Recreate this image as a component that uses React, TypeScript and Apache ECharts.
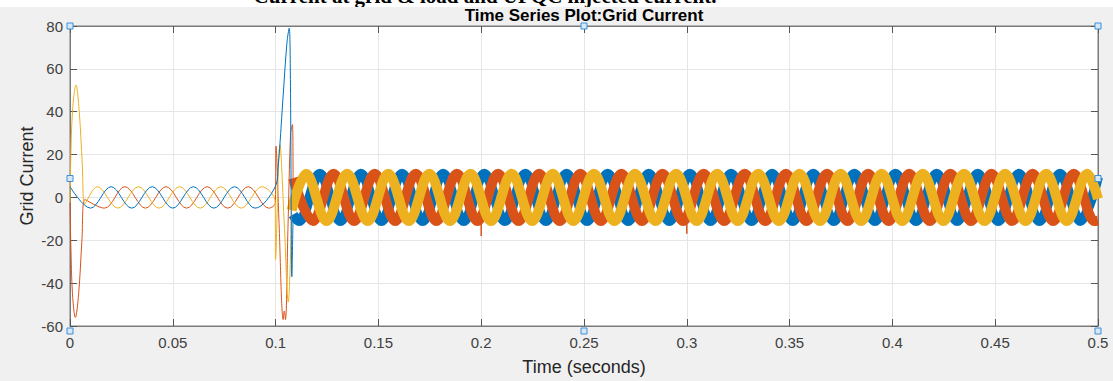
import React, { useEffect, useRef } from "react";
import * as echarts from "echarts";

// ---- tick settings ----
const xMin = 0;
const xMax = 0.5;
const xStep = 0.05;
const yMin = -60;
const yMax = 80;
const yStep = 20;

// ---- texts ----
const captionText = "Current at grid & load and UPQC injected current.";
const titleText = "Time Series Plot:Grid Current";
const xName = "Time (seconds)";
const yName = "Grid Current";

// ---- thin part (start-up transient, small sine, switching transient) ----
const blueThin: [number, number][] = [
  [0, 5], [0.01, -5], [0.02, 5], [0.03, -5], [0.04, 5], [0.05, -5], [0.06, 5],
  [0.07, -5], [0.08, 5], [0.09, -5], [0.0998, 5], [0.1013, 15], [0.1035, 45],
  [0.1055, 72], [0.1066, 79], [0.1072, 55], [0.1079, -37], [0.1085, -8],
];
const orangeThin: [number, number][] = [
  [0, -2.5], [0.0004, -22], [0.0012, -45], [0.0026, -56], [0.0042, -45],
  [0.0058, -20], [0.0072, -1], [0.0167, -5], [0.0267, 5], [0.0367, -5],
  [0.0467, 5], [0.0567, -5], [0.0667, 5], [0.0767, -5], [0.0867, 5],
  [0.0967, -5], [0.0999, -2.5], [0.1002, 24], [0.1016, -10], [0.1037, -57],
  [0.1042, -53], [0.1048, -57], [0.106, -15], [0.1073, 30], [0.1082, 34],
  [0.1085, 9],
];
const yellowThin: [number, number][] = [
  [0, -2.5], [0.0003, 15], [0.0012, 40], [0.0029, 52.5], [0.0045, 40],
  [0.006, 15], [0.0072, -3], [0.0133, 5], [0.0233, -5], [0.0333, 5],
  [0.0433, -5], [0.0533, 5], [0.0633, -5], [0.0733, 5], [0.0833, -5],
  [0.0933, 5], [0.0998, -2], [0.1, -29], [0.1021, 24.6], [0.1042, -12],
  [0.1062, -48.8], [0.107, -35], [0.1078, -6],
];

// ---- steady, noisy part (extrema) ----
const blueSteady: [number, number][] = [
  [0.1085, -8], [0.1115, -11], [0.1215, 11], [0.1315, -11], [0.1415, 11],
  [0.1515, -11], [0.1615, 11], [0.1715, -11], [0.1815, 11], [0.1915, -11],
  [0.2015, 11], [0.2115, -11], [0.2215, 11], [0.2315, -11], [0.2415, 11],
  [0.2515, -11], [0.2615, 11], [0.2715, -11], [0.2815, 11], [0.2915, -11],
  [0.3015, 11], [0.3115, -11], [0.3215, 11], [0.3315, -11], [0.3415, 11],
  [0.3515, -11], [0.3615, 11], [0.3715, -11], [0.3815, 11], [0.3915, -11],
  [0.4015, 11], [0.4115, -11], [0.4215, 11], [0.4315, -11], [0.4415, 11],
  [0.4515, -11], [0.4615, 11], [0.4715, -11], [0.4815, 11], [0.4915, -11],
  [0.5, 9.5],
];
const orangeSteady: [number, number][] = [
  [0.1085, 9], [0.1182, -11], [0.1282, 11], [0.1382, -11], [0.1482, 11],
  [0.1582, -11], [0.1682, 11], [0.1782, -11], [0.1882, 11], [0.1982, -11],
  [0.2082, 11], [0.2182, -11], [0.2282, 11], [0.2382, -11], [0.2482, 11],
  [0.2582, -11], [0.2682, 11], [0.2782, -11], [0.2882, 11], [0.2982, -11],
  [0.3082, 11], [0.3182, -11], [0.3282, 11], [0.3382, -11], [0.3482, 11],
  [0.3582, -11], [0.3682, 11], [0.3782, -11], [0.3882, 11], [0.3982, -11],
  [0.4082, 11], [0.4182, -11], [0.4282, 11], [0.4382, -11], [0.4482, 11],
  [0.4582, -11], [0.4682, 11], [0.4782, -11], [0.4882, 11], [0.4982, -11],
  [0.5, -10.8],
];
const yellowSteady: [number, number][] = [
  [0.1078, -6], [0.1148, 11], [0.1248, -11], [0.1348, 11], [0.1448, -11],
  [0.1548, 11], [0.1648, -11], [0.1748, 11], [0.1848, -11], [0.1948, 11],
  [0.2048, -11], [0.2148, 11], [0.2248, -11], [0.2348, 11], [0.2448, -11],
  [0.2548, 11], [0.2648, -11], [0.2748, 11], [0.2848, -11], [0.2948, 11],
  [0.3048, -11], [0.3148, 11], [0.3248, -11], [0.3348, 11], [0.3448, -11],
  [0.3548, 11], [0.3648, -11], [0.3748, 11], [0.3848, -11], [0.3948, 11],
  [0.4048, -11], [0.4148, 11], [0.4248, -11], [0.4348, 11], [0.4448, -11],
  [0.4548, 11], [0.4648, -11], [0.4748, 11], [0.4848, -11], [0.4948, 11],
  [0.5, -0.7],
];
const orangeSpikes: ([number, number] | [number, null])[] = [
  [0.2, -9], [0.2, -18], [0.25, null], [0.3, -9], [0.3, -17],
];

const BLUE = "#0072BD";
const ORANGE = "#D95319";
const YELLOW = "#EDB120";

const GRID = { left: 70, top: 26, width: 1028, height: 305 };

export default function App() {
  const ref = useRef<HTMLDivElement>(null);

  useEffect(() => {
    if (!ref.current) return;
    const chart = echarts.init(ref.current, undefined, { renderer: "svg" });

    const axisCommon = {
      axisLine: { show: true, onZero: false, lineStyle: { color: "#7a7a7a", width: 1 } },
      axisTick: { show: true, inside: true, length: 7, lineStyle: { color: "#555", width: 1 } },
    };
    const labelStyle = {
      color: "#404040",
      fontSize: 15,
      fontFamily: "Liberation Sans",
    };

    const handle = (cx: number, cy: number) => ({
      type: "rect",
      shape: { x: cx - 3, y: cy - 3, width: 6, height: 6 },
      style: { fill: "#d6e8f7", stroke: "#3d8fd6", lineWidth: 1 },
      z: 100,
    });
    const L = GRID.left, R = GRID.left + GRID.width, T = GRID.top, B = GRID.top + GRID.height;
    const MX = (L + R) / 2, MY = (T + B) / 2;

    const thin = (data: any, color: string) => ({
      type: "line",
      data,
      smooth: 0.36,
      showSymbol: false,
      symbol: "none",
      lineStyle: { color, width: 1 },
      silent: true,
    });
    const thick = (data: any, color: string) => ({
      type: "line",
      data,
      smooth: 0.36,
      smoothMonotone: "x",
      showSymbol: false,
      symbol: "none",
      lineStyle: { color, width: 10 },
      silent: true,
    });

    chart.setOption({
      animation: false,
      backgroundColor: "#f0f0f0",
      grid: {
        ...GRID,
        show: true,
        backgroundColor: "#ffffff",
        borderColor: "#7a7a7a",
        borderWidth: 1,
        containLabel: false,
      },
      xAxis: [
        {
          type: "value",
          min: xMin,
          max: xMax,
          interval: xStep,
          position: "bottom",
          ...axisCommon,
          axisLabel: {
            ...labelStyle,
            margin: 9,
            formatter: (v: number) => String(Math.round(v * 100) / 100),
          },
          splitLine: { show: true, lineStyle: { color: "#e6e6e6", width: 1 } },
          name: xName,
          nameLocation: "middle",
          nameGap: 32,
          nameMoveOverlap: false,
          nameTextStyle: { color: "#262626", fontSize: 18, fontFamily: "Liberation Sans" },
        },
        {
          type: "value",
          min: xMin,
          max: xMax,
          interval: xStep,
          position: "top",
          ...axisCommon,
          axisLabel: { show: false },
          splitLine: { show: false },
        },
      ],
      yAxis: [
        {
          type: "value",
          min: yMin,
          max: yMax,
          interval: yStep,
          position: "left",
          ...axisCommon,
          axisLabel: { ...labelStyle, margin: 7 },
          splitLine: { show: true, lineStyle: { color: "#e6e6e6", width: 1 } },
          name: yName,
          nameLocation: "middle",
          nameGap: 34,
          nameMoveOverlap: false,
          nameRotate: 90,
          nameTextStyle: { color: "#262626", fontSize: 18, fontFamily: "Liberation Sans" },
        },
        {
          type: "value",
          min: yMin,
          max: yMax,
          interval: yStep,
          position: "right",
          ...axisCommon,
          axisLabel: { show: false },
          splitLine: { show: false },
        },
      ],
      graphic: [
        { type: "rect", shape: { x: 0, y: 0, width: 1113, height: 7 }, style: { fill: "#ffffff" }, z: 1 },
        {
          type: "text",
          x: 485,
          y: -4,
          z: 2,
          style: {
            text: captionText,
            font: 'bold 21px "Liberation Serif"',
            fill: "#000000",
            textAlign: "center",
            textVerticalAlign: "middle",
          },
        },
        { type: "rect", shape: { x: 0, y: 7, width: 1113, height: 3 }, style: { fill: "#f0f0f0" }, z: 3 },
        {
          type: "text",
          x: 584,
          y: 15.5,
          z: 4,
          style: {
            text: titleText,
            font: 'bold 17px "Liberation Sans"',
            fill: "#000000",
            textAlign: "center",
            textVerticalAlign: "middle",
          },
        },
        handle(L, T), handle(MX, T), handle(R, T),
        handle(L, MY), handle(R, MY),
        handle(L, B), handle(MX, B), handle(R, B),
      ],
      series: [
        thick(blueSteady, BLUE),
        thick(orangeSteady, ORANGE),
        { ...thin(orangeSpikes, ORANGE), smooth: false, lineStyle: { color: ORANGE, width: 1.5 } },
        thick(yellowSteady, YELLOW),
        thin(orangeThin, ORANGE),
        thin(yellowThin, YELLOW),
        thin(blueThin, BLUE),
      ],
    });

    return () => chart.dispose();
  }, []);

  return (
    <div
      ref={ref}
      style={{ position: "absolute", left: 0, top: 0, width: 1113, height: 381 }}
    />
  );
}
